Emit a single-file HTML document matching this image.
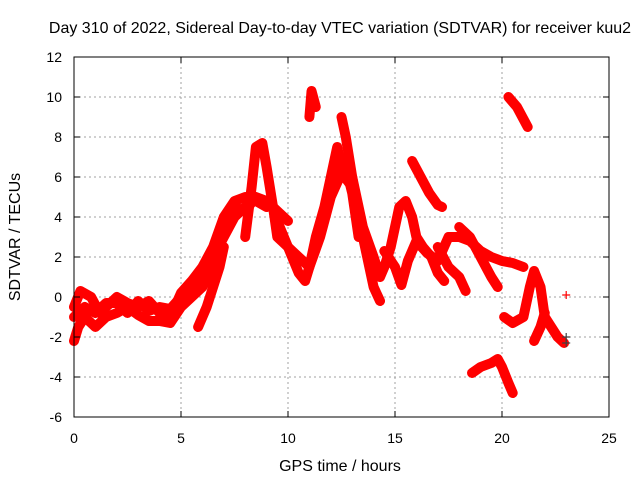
<!DOCTYPE html>
<html><head><meta charset="utf-8"><style>
body{margin:0;background:#fff;}
svg{display:block;font-family:"Liberation Sans",sans-serif;}
</style></head><body>
<svg id="chart" width="640" height="480">
<text x="340" y="33" font-size="16" text-anchor="middle">Day 310 of 2022, Sidereal Day-to-day VTEC variation (SDTVAR) for receiver kuu2</text>
<text x="340" y="471" font-size="16" text-anchor="middle">GPS time / hours</text>
<text transform="translate(20,237) rotate(-90)" font-size="16" text-anchor="middle">SDTVAR / TECUs</text>
<g id="grid"></g><g id="marks"></g><g id="axes"></g>
</svg>
<script>
const xTicks=[0,5,10,15,20,25];
const yTicks=[-6,-4,-2,0,2,4,6,8,10,12];
const trackA=[[0,-0.5],[0.3,0.3],[0.8,0],[1.2,-0.8],[2,0],[2.5,-0.3],[3,-0.5],[3.5,-0.2],[4,-0.8],[4.5,-1],[5,0.2],[5.5,0.8],[6,1.5],[6.5,2.5],[7,4],[7.5,4.8],[8,5],[8.5,4.8],[9,4.5]];
const trackB=[[0,-2.2],[0.2,-1.5],[0.5,-1],[1,-1.5],[1.5,-1],[2,-0.8],[2.5,-0.5],[3,-0.9],[3.5,-1.2],[4,-1.2],[4.5,-1.3],[5,-0.5],[5.5,0],[6,0.5],[6.5,1.5],[6.8,3],[7,3.5],[7.5,4.5],[8,4.3],[8.5,5],[9,4.8],[9.5,4.3],[10,3.8]];
const trackP=[[0,-1],[0.5,-0.5],[1,-0.8],[1.5,-0.3],[2,-0.3],[2.5,-0.8],[3,-0.2],[3.5,-0.7],[4,-0.5],[4.5,-0.6],[5,0],[5.5,0.5],[6,1],[6.5,2],[7,3],[7.5,4],[8,4.5]];
const trackC=[[5.8,-1.5],[6.2,-0.5],[6.8,1.5],[7,2.5]];
const trackD=[[8,3],[8.3,5.5],[8.5,7.5],[8.8,7.7],[9,6.5],[9.3,4.5],[9.5,3],[10,2.5],[10.5,2],[11,1.5],[11.5,3],[12,5],[12.5,6.2],[13,5.5]];
const trackE=[[9.5,3.8],[10,2.5],[10.5,1.2],[10.8,0.8],[11,1.5],[11.3,3],[11.7,4.5],[12,6],[12.3,7.5],[12.5,6.5],[13,6],[13.3,4],[13.7,2],[14,0.5],[14.3,-0.2]];
const trackQ=[[11.5,3.5],[12,5.5],[12.3,6.2],[12.7,6.5],[13,5.2],[13.3,3]];
const trackF=[[11,9],[11.1,10.3],[11.3,9.5]];
const trackG=[[12.5,9],[12.7,8],[13,6],[13.2,5],[13.5,3.5],[14,2],[14.3,1],[14.5,1.5],[14.8,2.5],[15,3.5],[15.2,4.5],[15.5,4.8],[15.8,4],[16,3],[16.3,2.5],[16.7,2],[17,1.2],[17.3,0.8]];
const trackH=[[14.5,2.3],[15,1.5],[15.3,0.6],[15.6,1.8],[16,2.8],[16.5,2.2],[17,1.8],[17.5,3],[18,3],[18.5,2.8],[19,2.3],[19.5,2],[20,1.8],[20.5,1.7],[21,1.5]];
const trackI=[[17,2.5],[17.5,1.5],[18,1],[18.3,0.3]];
const trackJ=[[18,3.5],[18.5,3],[19,2],[19.5,1],[19.8,0.5]];
const trackK=[[15.8,6.8],[16.2,6],[16.6,5.2],[17,4.6],[17.2,4.5]];
const trackL=[[20.3,10],[20.7,9.5],[21,8.9],[21.2,8.5]];
const trackM=[[18.6,-3.8],[19,-3.5],[19.5,-3.3],[19.8,-3.1],[20,-3.5],[20.3,-4.3],[20.5,-4.8]];
const trackN=[[20.1,-1],[20.5,-1.3],[21,-1],[21.3,0.5],[21.5,1.3],[21.8,0.5],[22,-1],[22.3,-1.5],[22.6,-2],[22.9,-2.3]];
const trackO=[[21.5,-2.2],[21.8,-1.5],[22,-0.8]];
const singles=[[23,0.1],[23,-2],[23,-2.3]];
const tracks=[trackA,trackB,trackP,trackC,trackD,trackE,trackQ,trackF,trackG,trackH,trackI,trackJ,trackK,trackL,trackM,trackN,trackO];

const L=74,R=609,T=57,B=417;
const xs=v=>L+(v-0)/25*(R-L);
const ys=v=>B-(v+6)/18*(B-T);
const NS="http://www.w3.org/2000/svg";
const grid=document.getElementById('grid'),marks=document.getElementById('marks'),axes=document.getElementById('axes');
function mk(tag,attrs,parent){const e=document.createElementNS(NS,tag);for(const k in attrs)e.setAttribute(k,attrs[k]);parent.appendChild(e);return e;}
xTicks.forEach(t=>{
  if(t>0&&t<25){const g=mk('line',{x1:xs(t),x2:xs(t),y1:T,y2:B,stroke:'#a0a0a0','stroke-dasharray':'2,3'},grid);
  
  }
  const tx=mk('text',{x:xs(t),y:B+26,'font-size':14,'text-anchor':'middle'},axes);tx.textContent=t;
  
  
  mk('line',{x1:xs(t),x2:xs(t),y1:B,y2:B-6,stroke:'#000'},axes);
  mk('line',{x1:xs(t),x2:xs(t),y1:T,y2:T+6,stroke:'#000'},axes);
});
yTicks.forEach(t=>{
  if(t>-6&&t<12){const g=mk('line',{x1:L,x2:R,y1:ys(t),y2:ys(t),stroke:'#a0a0a0','stroke-dasharray':'2,3'},grid);
  
  }
  const tx=mk('text',{x:L-12,y:ys(t)+5,'font-size':14,'text-anchor':'end'},axes);tx.textContent=t;
  
  
  mk('line',{x1:L,x2:L+6,y1:ys(t),y2:ys(t),stroke:'#000'},axes);
  mk('line',{x1:R,x2:R-6,y1:ys(t),y2:ys(t),stroke:'#000'},axes);
});
const frame=mk('rect',{x:L,y:T,width:R-L,height:B-T,fill:'none',stroke:'#000'},axes);


function plus(h,v,col){const x=xs(h),y=ys(v);
  const p=mk('path',{d:`M${x-4},${y}H${x+4}M${x},${y-4}V${y+4}`,stroke:col,'stroke-width':1.2},marks);
  
  }
tracks.forEach(tr=>{
  const pl=mk('polyline',{points:tr.map(p=>xs(p[0])+','+ys(p[1])).join(' '),fill:'none',stroke:'#ff0000','stroke-width':10,'stroke-linejoin':'round','stroke-linecap':'round'},marks);
  
  
  tr.forEach(p=>plus(p[0],p[1],'#ff0000'));
});
singles.forEach((p,i)=>plus(p[0],p[1],i==0?'#ff0000':'#404040'));
</script>
</body></html>
